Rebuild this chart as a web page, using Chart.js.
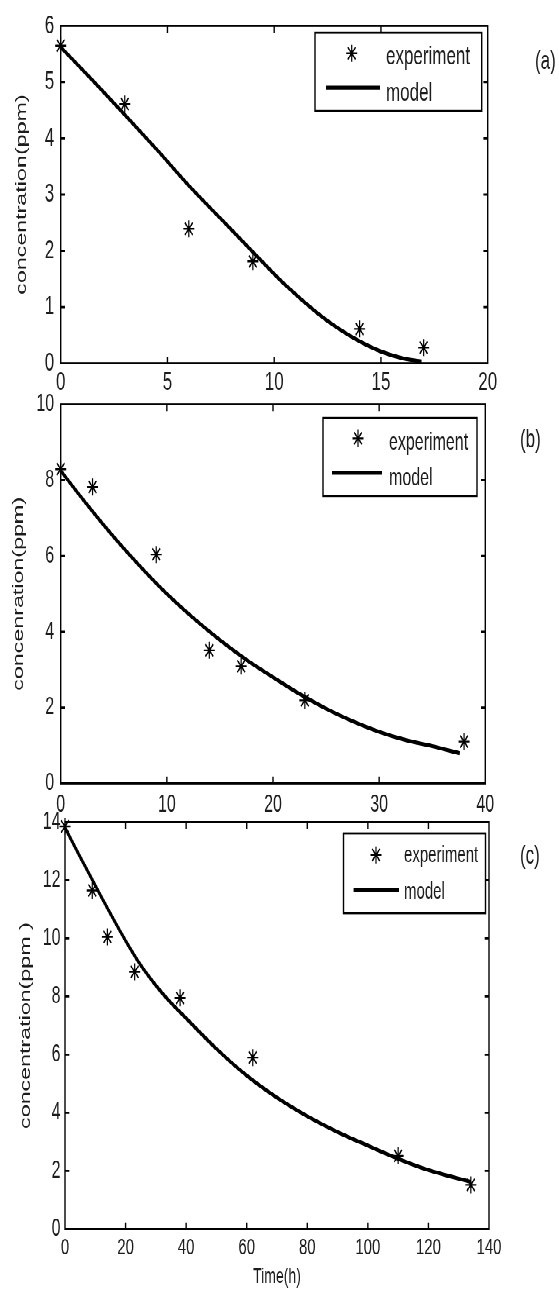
<!DOCTYPE html>
<html>
<head>
<meta charset="utf-8">
<script src="https://cdn.jsdelivr.net/npm/chart.js@4.4.0/dist/chart.umd.min.js"></script>
<style>
html,body{margin:0;padding:0;background:#fff;}
body{width:559px;height:1290px;overflow:hidden;position:relative;}
#stage{position:absolute;left:0;top:0;width:559px;height:832px;transform:scaleY(1.550481);transform-origin:0 0;}
.pane{position:absolute;left:0;top:0;width:559px;height:832px;}
</style>
</head>
<body>
<div id="stage">
  <div class="pane"><canvas id="ca"></canvas></div>
  <div class="pane"><canvas id="cb"></canvas></div>
  <div class="pane"><canvas id="cc"></canvas></div>
</div>
<script>
// ---------- data ----------
const legendLabels = ['experiment', 'model'];

// panel (a)
const aExpTime   = [0, 3, 6, 9, 14, 17];
const aExpConc   = [5.65, 4.61, 2.39, 1.81, 0.61, 0.28];
const aModelTime = [0, 1.5, 3, 4.5, 6, 7.5, 9, 10.5, 12, 13, 14, 15, 16, 16.9];
const aModelConc = [5.62, 5.03, 4.42, 3.80, 3.16, 2.57, 1.98, 1.40, 0.90, 0.62, 0.39, 0.21, 0.09, 0.03];
const aXTicks = [0, 5, 10, 15, 20];
const aYTicks = [0, 1, 2, 3, 4, 5, 6];
const aYTitle = 'concentration(ppm)';

// panel (b)
const bExpTime   = [0, 3, 9, 14, 17, 23, 38];
const bExpConc   = [8.29, 7.82, 6.04, 3.51, 3.09, 2.19, 1.10];
const bModelTime = [0, 2.5, 5, 7.5, 10, 12.5, 15, 17.5, 20, 22.5, 25, 27.5, 30, 32.5, 35, 37.6];
const bModelConc = [8.25, 7.35, 6.50, 5.72, 5.00, 4.36, 3.78, 3.26, 2.80, 2.36, 1.97, 1.64, 1.36, 1.14, 0.98, 0.79];
const bXTicks = [0, 10, 20, 30, 40];
const bYTicks = [0, 2, 4, 6, 8, 10];
const bYTitle = 'concenration(ppm)';

// panel (c)
const cExpTime   = [0, 9, 14, 23, 38, 62, 110, 134];
const cExpConc   = [13.85, 11.65, 10.05, 8.85, 7.95, 5.90, 2.52, 1.52];
const cModelTime = [0, 5, 10, 15, 20, 25, 30, 35, 40, 50, 60, 70, 80, 90, 100, 110, 120, 134];
const cModelConc = [13.80, 12.80, 11.82, 10.85, 9.92, 9.08, 8.38, 7.78, 7.25, 6.20, 5.28, 4.52, 3.88, 3.34, 2.87, 2.42, 2.03, 1.62];
const cXTicks = [0, 20, 40, 60, 80, 100, 120, 140];
const cYTicks = [0, 2, 4, 6, 8, 10, 12, 14];
const cYTitle = 'concentration(ppm )';
const cXTitle = 'Time(h)';

// ---------- drawing ----------
const FONT = '"Liberation Sans", Arial, Helvetica, sans-serif';
const INK = '#1c1c1c';

const framePlugin = {
  id: 'matlabFrame',
  afterDraw(chart, args, o) {
    const {ctx, chartArea: {left, right, top, bottom}, scales: {x, y}} = chart;
    const L = 4.3;
    ctx.save();
    ctx.strokeStyle = '#000';
    ctx.lineWidth = 1.4;
    ctx.strokeRect(left, top, right - left, bottom - top);
    ctx.beginPath();
    x.ticks.forEach(t => {
      const px = x.getPixelForValue(t.value);
      if (px <= left + 1 || px >= right - 1) return;
      ctx.moveTo(px, bottom); ctx.lineTo(px, bottom - L);
      ctx.moveTo(px, top); ctx.lineTo(px, top + L);
    });
    y.ticks.forEach(t => {
      const py = y.getPixelForValue(t.value);
      if (py <= top + 1 || py >= bottom - 1) return;
      ctx.moveTo(left, py); ctx.lineTo(left + L, py);
      ctx.moveTo(right, py); ctx.lineTo(right - L, py);
    });
    ctx.stroke();

    // legend box
    const g = o.legend;
    ctx.fillStyle = '#fff';
    ctx.fillRect(g.x0, g.y0, g.x1 - g.x0, g.y1 - g.y0);
    ctx.lineWidth = 1.4;
    ctx.strokeRect(g.x0, g.y0, g.x1 - g.x0, g.y1 - g.y0);
    const ds = chart.data.datasets;
    // experiment marker
    ctx.strokeStyle = ds[0].borderColor;
    ctx.fillStyle = ds[0].borderColor;
    ctx.lineWidth = ds[0].pointBorderWidth;
    if (Chart.helpers && Chart.helpers.drawPoint) {
      Chart.helpers.drawPoint(ctx, {pointStyle: 'star', radius: ds[0].pointRadius, rotation: 0, borderWidth: ds[0].pointBorderWidth}, g.starX, g.starY);
    }
    // model sample line
    ctx.strokeStyle = ds[1].borderColor;
    ctx.lineWidth = ds[1].borderWidth;
    ctx.beginPath();
    ctx.moveTo(g.lineX0, g.lineY); ctx.lineTo(g.lineX1, g.lineY);
    ctx.stroke();
    // texts
    ctx.fillStyle = INK;
    ctx.font = g.size + 'px ' + FONT;
    ctx.textAlign = 'left';
    ctx.textBaseline = 'middle';
    ctx.fillText(ds[0].label, g.textX, g.expTextY);
    ctx.fillText(ds[1].label, g.textX, g.modTextY);
    // panel tag
    ctx.font = o.tag.size + 'px ' + FONT;
    ctx.fillText(o.tag.text, o.tag.x, o.tag.y);
    ctx.restore();
  }
};

function makeChart(id, p) {
  const tickFont = s => ({family: FONT, size: s});
  return new Chart(document.getElementById(id), {
    type: 'scatter',
    data: {
      datasets: [
        {
          label: legendLabels[0],
          data: p.expX.map((v, i) => ({x: v, y: p.expY[i]})),
          showLine: false,
          pointStyle: 'star',
          pointRadius: 5.5,
          pointBorderWidth: 1.2,
          borderColor: '#000',
          backgroundColor: '#000',
          clip: false,
          order: 0
        },
        {
          label: legendLabels[1],
          data: p.modX.map((v, i) => ({x: v, y: p.modY[i]})),
          showLine: true,
          borderColor: '#000',
          borderWidth: 2.6,
          pointRadius: 0,
          cubicInterpolationMode: 'monotone',
          clip: false,
          order: 1
        }
      ]
    },
    options: {
      responsive: true,
      maintainAspectRatio: false,
      animation: false,
      devicePixelRatio: 2,
      events: [],
      layout: {padding: {top: p.padTop, right: p.padRight, bottom: p.padBottom, left: 0}},
      plugins: {
        legend: {display: false},
        tooltip: {enabled: false},
        matlabFrame: {legend: p.legend, tag: p.tag}
      },
      scales: {
        x: {
          type: 'linear',
          min: p.xTicks[0],
          max: p.xTicks[p.xTicks.length - 1],
          afterBuildTicks: s => { s.ticks = p.xTicks.map(v => ({value: v})); },
          afterFit: s => { s.height = p.xH; },
          grid: {display: false, drawTicks: false},
          border: {display: false},
          ticks: {font: tickFont(p.xTickSize), color: INK, padding: p.xTickPad, maxRotation: 0, autoSkip: false},
          title: p.xTitle ? {display: true, text: p.xTitle, color: INK, font: {family: FONT, size: 14}, padding: {top: 0, bottom: 0}} : {display: false}
        },
        y: {
          type: 'linear',
          min: p.yTicks[0],
          max: p.yTicks[p.yTicks.length - 1],
          afterBuildTicks: s => { s.ticks = p.yTicks.map(v => ({value: v})); },
          afterFit: s => { s.width = p.yW; },
          grid: {display: false, drawTicks: false},
          border: {display: false},
          ticks: {font: tickFont(p.yTickSize), color: INK, padding: p.yTickPad, autoSkip: false},
          title: {display: true, text: p.yTitle, color: INK, font: {family: FONT, size: 15}, padding: {top: p.yTitlePad, bottom: 0}}
        }
      }
    },
    plugins: [framePlugin]
  });
}

makeChart('ca', {
  expX: aExpTime, expY: aExpConc, modX: aModelTime, modY: aModelConc,
  xTicks: aXTicks, yTicks: aYTicks, yTitle: aYTitle,
  padTop: 11.16, padRight: 71.3, padBottom: 572.7, xH: 25, yW: 60.7,
  xTickSize: 17, yTickSize: 17, xTickPad: 2.5, yTickPad: 6.5, yTitlePad: 13,
  legend: {x0: 315, x1: 481.7, y0: 21.1, y1: 71.6, starX: 351.7, starY: 34.4, textX: 386,
           expTextY: 37, lineX0: 326, lineX1: 380, lineY: 56.6, modTextY: 60.5, size: 17},
  tag: {text: '(a)', x: 535, y: 40, size: 17}
});

makeChart('cb', {
  expX: bExpTime, expY: bExpConc, modX: bModelTime, modY: bModelConc,
  xTicks: bXTicks, yTicks: bYTicks, yTitle: bYTitle,
  padTop: 260.8, padRight: 73.7, padBottom: 301.8, xH: 25, yW: 60.7,
  xTickSize: 16, yTickSize: 16, xTickPad: 4.4, yTickPad: 6.5, yTitlePad: 10,
  legend: {x0: 323, x1: 477, y0: 269.6, y1: 319.9, starX: 358, starY: 282.7, textX: 389,
           expTextY: 285.8, lineX0: 332, lineX1: 382, lineY: 304.9, modTextY: 308.5, size: 16},
  tag: {text: '(b)', x: 520, y: 283.8, size: 17}
});

makeChart('cc', {
  expX: cExpTime, expY: cExpConc, modX: cModelTime, modY: cModelConc,
  xTicks: cXTicks, yTicks: cYTicks, yTitle: cYTitle, xTitle: cXTitle,
  padTop: 530.2, padRight: 70, padBottom: 0, xH: 39.3, yW: 65,
  xTickSize: 15, yTickSize: 16, xTickPad: 3.2, yTickPad: 4.5, yTitlePad: 17,
  legend: {x0: 343.5, x1: 485.5, y0: 537.5, y1: 589, starX: 376, starY: 551.4, textX: 404,
           expTextY: 552, lineX0: 353.6, lineX1: 399, lineY: 574, modTextY: 575.5, size: 15},
  tag: {text: '(c)', x: 520, y: 552.5, size: 17}
});
</script>
</body>
</html>
